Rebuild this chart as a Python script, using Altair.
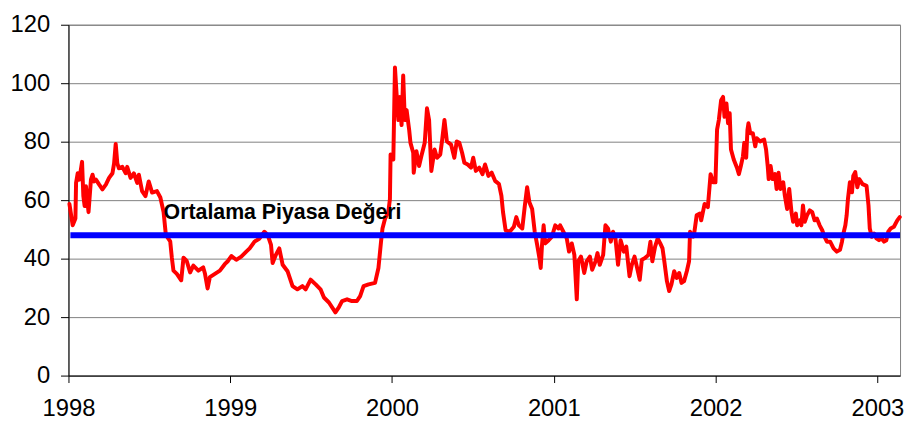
import altair as alt
import pandas as pd

# Decimal-year positions and index values
years = [
    1998.006, 1998.026, 1998.043, 1998.047, 1998.057, 1998.067, 1998.084, 1998.092, 1998.100, 1998.108,
    1998.124, 1998.139, 1998.149, 1998.159, 1998.170, 1998.190, 1998.210, 1998.231, 1998.251, 1998.272,
    1998.282, 1998.292, 1998.302, 1998.312, 1998.333, 1998.354, 1998.363, 1998.384, 1998.404, 1998.425,
    1998.435, 1998.455, 1998.476, 1998.496, 1998.517, 1998.547, 1998.568, 1998.588, 1998.602, 1998.629,
    1998.639, 1998.649, 1998.670, 1998.697, 1998.711, 1998.731, 1998.752, 1998.772, 1998.803, 1998.833,
    1998.844, 1998.860, 1998.874, 1998.905, 1998.936, 1998.966, 1998.986, 1999.007,
    1999.037, 1999.068, 1999.099, 1999.120, 1999.150, 1999.181, 1999.211, 1999.232, 1999.252, 1999.262,
    1999.282, 1999.303, 1999.324, 1999.354, 1999.385, 1999.415, 1999.446, 1999.466, 1999.497, 1999.528,
    1999.558, 1999.579, 1999.610, 1999.650, 1999.671, 1999.691, 1999.722, 1999.752, 1999.783, 1999.803,
    1999.824, 1999.855, 1999.895, 1999.916, 1999.932, 1999.941, 1999.957, 1999.977,
    1999.987, 1999.991, 2000.008, 2000.018, 2000.028, 2000.039, 2000.048, 2000.059, 2000.069, 2000.079,
    2000.090, 2000.106, 2000.114, 2000.131, 2000.134, 2000.151, 2000.167, 2000.181, 2000.202, 2000.216,
    2000.229, 2000.243, 2000.263, 2000.278, 2000.298, 2000.310, 2000.324, 2000.339, 2000.365, 2000.385,
    2000.400, 2000.416, 2000.433, 2000.447, 2000.468, 2000.488, 2000.502, 2000.518, 2000.539, 2000.559,
    2000.575, 2000.596, 2000.616, 2000.637, 2000.661, 2000.676, 2000.686, 2000.702, 2000.727, 2000.753,
    2000.768, 2000.784, 2000.805, 2000.821, 2000.835, 2000.849, 2000.866, 2000.882, 2000.897, 2000.911,
    2000.919, 2000.927, 2000.937, 2000.947, 2000.968, 2000.988, 2001.009, 2001.029,
    2001.039, 2001.059, 2001.080, 2001.094, 2001.111, 2001.127, 2001.142, 2001.151, 2001.168, 2001.188,
    2001.203, 2001.223, 2001.237, 2001.258, 2001.270, 2001.284, 2001.305, 2001.319, 2001.335, 2001.352,
    2001.366, 2001.381, 2001.397, 2001.413, 2001.433, 2001.448, 2001.468, 2001.482, 2001.499, 2001.515,
    2001.531, 2001.544, 2001.564, 2001.585, 2001.597, 2001.609, 2001.626, 2001.642, 2001.658, 2001.672,
    2001.683, 2001.699, 2001.713, 2001.727, 2001.744, 2001.760, 2001.775, 2001.789, 2001.805, 2001.822,
    2001.836, 2001.842, 2001.862,
    2001.866, 2001.883, 2001.903, 2001.911, 2001.932, 2001.952, 2001.969, 2001.985, 2001.999, 2002.009,
    2002.020, 2002.034, 2002.046, 2002.055, 2002.067, 2002.077, 2002.087,
    2002.095, 2002.112, 2002.132, 2002.144, 2002.156, 2002.169, 2002.177, 2002.189, 2002.197, 2002.203,
    2002.214, 2002.230, 2002.245, 2002.254, 2002.275, 2002.300, 2002.312, 2002.322, 2002.328, 2002.340,
    2002.352, 2002.367, 2002.377, 2002.389, 2002.401, 2002.418, 2002.428, 2002.442, 2002.455, 2002.469,
    2002.479, 2002.496, 2002.504, 2002.520, 2002.530, 2002.540, 2002.551, 2002.565, 2002.582, 2002.597,
    2002.612, 2002.626, 2002.643, 2002.659, 2002.673, 2002.688, 2002.708, 2002.729, 2002.749, 2002.769,
    2002.781, 2002.790, 2002.802, 2002.810, 2002.818, 2002.830, 2002.843, 2002.851, 2002.863, 2002.876,
    2002.888, 2002.908, 2002.933, 2002.945, 2002.953, 2002.965, 2002.980, 2002.994, 2003.010, 2003.026,
    2003.041, 2003.055, 2003.067, 2003.082, 2003.102, 2003.123, 2003.138,
]

values = [
    58.7, 51.4, 53.7, 65.9, 69.2, 67.0, 73.1, 61.4, 58.0, 64.8,
    55.9, 67.0, 68.7, 66.4, 67.0, 65.3, 63.7, 65.3, 67.6, 69.2,
    72.6, 79.2, 72.6, 70.9, 71.4, 69.2, 71.4, 67.6, 69.2, 65.9,
    68.7, 63.1, 61.4, 66.4, 62.6, 63.1, 60.9, 55.9, 48.1, 45.9,
    40.3, 35.9, 34.8, 32.6, 40.3, 39.2, 35.3, 37.6, 35.9, 37.0,
    34.8, 29.8, 33.7, 34.8, 35.9, 38.1, 39.2, 40.9,
    39.6, 40.7, 42.4, 43.5, 45.8, 46.9, 49.2, 48.0, 44.7, 38.5,
    41.3, 43.5, 37.9, 35.7, 30.6, 29.5, 30.6, 29.5, 32.8, 31.2,
    29.5, 26.7, 25.0, 21.6, 23.3, 25.5, 26.1, 25.5, 25.5, 27.2,
    30.6, 31.2, 31.7, 36.8, 45.8, 50.3, 53.7, 55.9,
    60.4, 75.6, 73.9, 105.4, 96.4, 87.4, 95.3, 85.7, 102.6, 87.4,
    90.8, 84.0, 79.6, 76.2, 69.4, 76.7, 71.7, 75.0, 79.6, 91.4,
    87.4, 70.0, 77.3, 74.5, 75.6, 80.7, 87.4, 80.1, 79.0, 74.5,
    80.1, 79.6, 76.2, 72.8, 72.2, 71.1, 74.5, 70.0, 71.1, 68.9,
    72.2, 68.3, 69.4, 66.6, 65.5, 61.5, 55.9, 49.7, 49.2, 50.9,
    54.2, 51.4, 50.3, 58.2, 64.4, 59.3, 57.0, 49.2, 44.7, 40.2,
    36.8, 44.7, 51.4, 45.2, 46.3, 47.5, 51.4, 50.3,
    51.4, 49.2, 46.9, 42.4, 45.2, 41.3, 26.1, 39.1, 40.7, 35.1,
    39.1, 40.7, 36.2, 39.1, 41.9, 37.9, 41.3, 51.4, 50.3, 45.8,
    49.2, 46.9, 37.9, 46.3, 42.4, 44.1, 34.0, 37.9, 40.7, 36.8,
    32.8, 39.6, 40.2, 41.3, 45.8, 39.1, 44.1, 46.9, 45.2, 43.5,
    39.1, 32.3, 28.9, 31.2, 35.7, 33.4, 35.1, 31.7, 32.3, 35.7,
    39.1, 49.2, 47.5,
    48.0, 54.8, 55.4, 53.1, 58.7, 57.6, 68.9, 66.1, 66.1, 84.1,
    87.4, 94.2, 95.3, 88.5, 93.1, 86.3, 89.7,
    77.3, 73.9, 71.1, 68.9, 71.7, 75.0, 79.6, 74.5, 84.1, 86.3,
    82.9, 82.9, 78.4, 81.2, 80.1, 80.7, 77.3, 71.7, 67.2, 71.7,
    67.2, 68.9, 63.8, 69.4, 63.8, 66.1, 61.5, 57.0, 63.8, 55.9,
    52.6, 55.4, 51.4, 53.1, 51.4, 58.2, 52.6, 54.8, 56.5, 55.9,
    53.1, 53.7, 51.4, 49.7, 47.5, 45.8, 45.8, 43.5, 42.4, 43.0,
    45.8, 48.6, 51.4, 54.8, 60.4, 66.1, 62.7, 68.3, 69.6, 64.4,
    67.2, 65.5, 64.9, 58.2, 50.3, 47.5, 48.6, 46.9, 46.3, 46.9,
    45.8, 46.3, 49.2, 50.3, 50.9, 53.1, 54.2,
]

year_ticks = [1998, 1999, 2000, 2001, 2002, 2003]
value_ticks = [0, 20, 40, 60, 80, 100, 120]

average_value = 48.0
average_start = 1998.012
average_end = 2003.14
label_text = "Ortalama Piyasa Değeri"
label_year = 1998.588
label_value = 53.4

series = pd.DataFrame({"yil": years, "deger": values})
avg_df = pd.DataFrame({"x1": [average_start], "x2": [average_end], "y": [average_value]})
label_df = pd.DataFrame({"x": [label_year], "y": [label_value], "t": [label_text]})

FONT = "Liberation Sans"

x_scale = alt.Scale(domain=[1998, 2003.14], nice=False, zero=False)
y_scale = alt.Scale(domain=[0, 120], nice=False)

line = alt.Chart(series).mark_line(
    color="#FF0000", strokeWidth=4, strokeJoin="round", strokeCap="round"
).encode(
    x=alt.X("yil:Q", scale=x_scale, title=None,
            axis=alt.Axis(values=year_ticks, format="d", grid=False,
                          tickSize=7, labelPadding=14, labelFontSize=24,
                          labelFont=FONT, labelColor="#000000",
                          domainColor="#000000", tickColor="#000000",
                          labelFlush=False)),
    y=alt.Y("deger:Q", scale=y_scale, title=None,
            axis=alt.Axis(values=value_ticks, grid=True, gridColor="#808080",
                          gridWidth=1, tickSize=8, labelPadding=11,
                          labelFontSize=24, labelFont=FONT, labelColor="#000000",
                          domainColor="#000000", tickColor="#000000")),
)

avg = alt.Chart(avg_df).mark_rule(color="#0000FF", strokeWidth=6, strokeCap="butt").encode(
    x=alt.X("x1:Q", scale=x_scale),
    x2="x2:Q",
    y=alt.Y("y:Q", scale=y_scale),
)

label = alt.Chart(label_df).mark_text(
    align="left", baseline="alphabetic", font=FONT, fontSize=21.5,
    fontWeight="bold", color="#000000"
).encode(
    x=alt.X("x:Q", scale=x_scale),
    y=alt.Y("y:Q", scale=y_scale),
    text="t:N",
)

chart = alt.layer(line, avg, label).properties(
    width=839, height=354,
    autosize=alt.AutoSizeParams(type="none"),
    padding={"left": 61, "top": 15, "right": 5, "bottom": 51},
    background="#FFFFFF",
).configure_view(stroke="#808080", strokeWidth=1)

chart.save("out.html", embed_options={"renderer": "svg", "actions": False})
